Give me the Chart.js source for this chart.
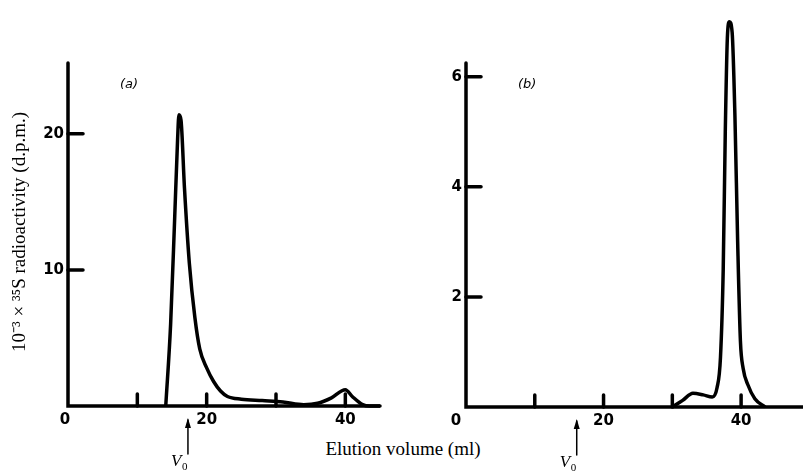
<!DOCTYPE html>
<html><head><meta charset="utf-8">
<script src="https://cdn.jsdelivr.net/npm/chart.js@4"></script>
<style>
body{margin:0;background:#fff;width:803px;height:473px;position:relative;overflow:hidden}
canvas{position:absolute;top:0}
#xt{position:absolute;left:300px;width:206px;top:438px;text-align:center;font:19px 'Liberation Serif';color:#000;background:#fff}
</style></head><body>
<canvas id="ca" width="400" height="473" style="left:0;width:400px;height:473px"></canvas>
<canvas id="cb" width="403" height="473" style="left:400px;width:403px;height:473px"></canvas>
<div id="xt">Elution volume (ml)</div>
<script>
// panel (a)
const volA = [14.1,14.8,15.4,15.8,16,16.3,16.8,17.5,18.3,19,20,21,22,23,25,28,31,34,36,38,40,41,42.5,43.5,45];
const actA = [0,6,14,19.5,21.4,21,16,10.5,6.5,4.2,2.8,1.8,1.1,0.7,0.5,0.4,0.3,0.1,0.2,0.6,1.2,0.7,0.1,0,0];
// panel (b)
const volB = [30,31.5,33,34.5,35.8,36.5,37,37.4,37.7,38,38.3,38.7,39.1,39.5,39.9,40.3,41,42,43.5];
const actB = [0,0.12,0.25,0.22,0.18,0.35,0.9,2.5,5,6.7,7.0,6.8,5.3,3,1.2,0.7,0.4,0.15,0];
const xTicks = [10,20,30,40];
const xLabels = [0,20,40];
const yTicksA = [10,20];
const yTicksB = [2,4,6];
const v0A = 17.3, v0B = 16.1;

function axesPlugin(yTicks, v0, tag, zeroDx) {
  return {
    id: "axes",
    afterDatasetsDraw(c) {
      const ctx = c.ctx, x = c.scales.x, y = c.scales.y;
      const x0 = x.getPixelForValue(0), y0 = y.getPixelForValue(0);
      ctx.save();
      ctx.strokeStyle = "#000"; ctx.fillStyle = "#000";
      ctx.lineWidth = 3.5; ctx.lineCap = "round";
      ctx.beginPath();
      ctx.moveTo(x0, c.chartArea.top); ctx.lineTo(x0, y0);
      ctx.lineTo(c.chartArea.right, y0); ctx.stroke();
      xTicks.forEach(v => {
        const px = x.getPixelForValue(v);
        ctx.beginPath(); ctx.moveTo(px, y0); ctx.lineTo(px, y0 - 12); ctx.stroke();
      });
      yTicks.forEach(v => {
        const py = y.getPixelForValue(v);
        ctx.beginPath(); ctx.moveTo(x0, py); ctx.lineTo(x0 + 15, py); ctx.stroke();
      });
      ctx.font = "bold 15px 'DejaVu Sans'";
      ctx.textAlign = "center"; ctx.textBaseline = "top";
      xLabels.forEach(v => {
        const px = v === 0 ? x0 + zeroDx : x.getPixelForValue(v);
        ctx.fillText(String(v), px, y0 + 7);
      });
      ctx.textAlign = "right"; ctx.textBaseline = "middle";
      yTicks.forEach(v => ctx.fillText(String(v), x0 - 4, y.getPixelForValue(v)));
      ctx.font = "italic 13px 'DejaVu Sans'"; ctx.textAlign = "left";
      ctx.fillText(tag, x0 + 52, 85);
      // V0 arrow
      const ax = x.getPixelForValue(v0);
      ctx.lineWidth = 1.5;
      ctx.beginPath(); ctx.moveTo(ax, y0 + 48); ctx.lineTo(ax, y0 + 14); ctx.stroke();
      ctx.beginPath(); ctx.moveTo(ax - 3, y0 + 22); ctx.lineTo(ax, y0 + 12); ctx.lineTo(ax + 3, y0 + 22); ctx.fill();
      ctx.font = "italic 17px 'Liberation Serif'"; ctx.textAlign = "left"; ctx.textBaseline = "alphabetic";
      ctx.fillText("V", ax - 17, y0 + 60);
      ctx.font = "11px 'Liberation Serif'";
      ctx.fillText("0", ax - 6, y0 + 64);
      ctx.restore();
    }
  };
}

function makeChart(id, xs, ys, xMax, yMax, pad, plugins) {
  return new Chart(document.getElementById(id), {
    type: "line",
    data: { datasets: [{ data: xs.map((v, i) => ({ x: v, y: ys[i] })), borderColor: "#000",
      borderWidth: 3.5, pointRadius: 0, cubicInterpolationMode: "monotone", fill: false, clip: false }] },
    options: {
      responsive: false, animation: false, layout: { padding: pad },
      plugins: { legend: { display: false }, tooltip: { enabled: false } },
      scales: {
        x: { type: "linear", min: 0, max: xMax, display: false },
        y: { min: 0, max: yMax, display: false }
      }
    },
    plugins
  });
}

makeChart("ca", volA, actA, 45, 25.2, { left: 68, right: 20, top: 63, bottom: 67 }, [
  axesPlugin(yTicksA, v0A, "(a)", -3),
  { id: "ytitle", afterDraw(c) {
      const ctx = c.ctx; ctx.save(); ctx.translate(20, 232); ctx.rotate(-Math.PI / 2);
      ctx.font = "19px 'Liberation Serif'"; ctx.textAlign = "center"; ctx.textBaseline = "middle";
      ctx.fillStyle = "#000";
      ctx.fillText("10\u207B\u00B3 \u00D7 \u00B3\u2075S radioactivity (d.p.m.)", 0, 0);
      ctx.restore();
  } }
]);
makeChart("cb", volB, actB, 49, 6.25, { left: 66, right: 0, top: 63, bottom: 66 }, [
  axesPlugin(yTicksB, v0B, "(b)", -10)
]);
</script>
</body></html>
